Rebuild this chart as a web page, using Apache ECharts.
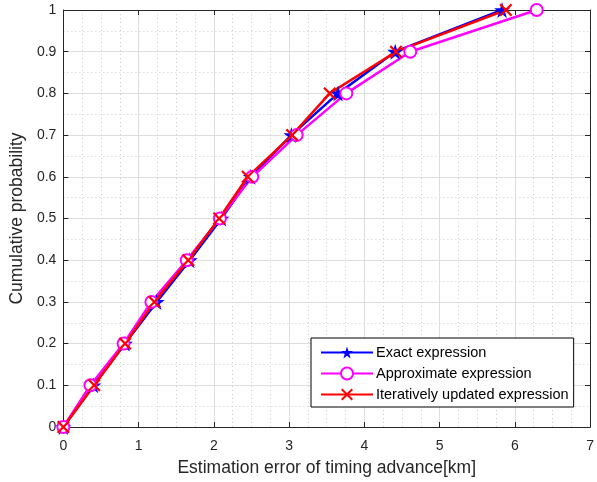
<!DOCTYPE html>
<html lang="en">
<head>
    <meta charset="UTF-8">
    <title>Timing advance CDF</title>
    <script src="https://cdn.jsdelivr.net/npm/echarts@6/dist/echarts.min.js"></script>
    <style>
        html, body { margin: 0; padding: 0; background: #fff; }
        #container { width: 597px; height: 482px; }
    </style>
</head>
<body>
<div id="container"></div>
<script>
    // cumulative probability levels (y) and estimation error per curve (x, km)
    var probLevels = [0, 0.1, 0.2, 0.3, 0.4, 0.5, 0.6, 0.7, 0.8, 0.9, 1.0];
    var exactErr  = [0, 0.40, 0.82, 1.24, 1.68, 2.10, 2.49, 3.03, 3.65, 4.41, 5.83];
    var approxErr = [0, 0.36, 0.80, 1.17, 1.64, 2.08, 2.51, 3.10, 3.76, 4.61, 6.29];
    var iterErr   = [0, 0.41, 0.82, 1.21, 1.66, 2.07, 2.45, 3.04, 3.54, 4.42, 5.88];
    var seriesNames = ['Exact expression', 'Approximate expression', 'Iteratively updated expression'];

    var starPath = 'path://M50,0 L61,35 L98,35 L68,57 L79,91 L50,70 L21,91 L32,57 L2,35 L39,35 Z';
    var crossPath = 'path://M0,12 L12,0 L50,38 L88,0 L100,12 L62,50 L100,88 L88,100 L50,62 L12,100 L0,88 L38,50 Z';

    function pairs(xs) {
        var out = [];
        for (var i = 0; i < xs.length; i++) {
            out.push([xs[i], probLevels[i]]);
        }
        return out;
    }

    var font = 'Liberation Sans, Arial, sans-serif';
    var axisColor = '#262626';

    var myChart = echarts.init(document.getElementById('container'));

    function baseAxis(extra) {
        var ax = {
            type: 'value',
            axisLine: { show: true, onZero: false, lineStyle: { color: axisColor, width: 1 } },
            axisTick: { show: true, inside: true, length: 5, lineStyle: { color: axisColor } },
            splitLine: { show: false },
            axisLabel: { show: false }
        };
        for (var k in extra) ax[k] = extra[k];
        return ax;
    }

    var option = {
        animation: false,
        backgroundColor: '#fff',
        grid: { left: 62, right: 3, top: 10, bottom: 52 },
        legend: {
            orient: 'vertical',
            left: 311,
            top: 338,
            padding: [7, 5, 5, 9],
            itemGap: 6,
            itemWidth: 52,
            itemHeight: 15,
            backgroundColor: '#fff',
            borderColor: '#000',
            borderWidth: 1,
            borderRadius: 0,
            textStyle: { fontFamily: font, fontSize: 14.5, color: '#000', padding: [0, 0, 0, -2] },
            data: seriesNames
        },
        xAxis: [
            baseAxis({
                min: 0, max: 7, interval: 1,
                position: 'bottom',
                name: 'Estimation error of timing advance[km]',
                nameLocation: 'middle',
                nameGap: 32,
                nameTextStyle: { fontFamily: font, fontSize: 17.5, color: '#262626' },
                axisLabel: { show: true, margin: 12, fontFamily: font, fontSize: 14, color: '#262626' },
                splitLine: { show: true, lineStyle: { color: '#dedede', width: 1 } },
                minorTick: { show: false, splitNumber: 4 },
                minorSplitLine: { show: true, lineStyle: { color: '#cfcfcf', type: [1, 3], width: 1 } }
            }),
            baseAxis({ min: 0, max: 7, interval: 1, position: 'top' })
        ],
        yAxis: [
            baseAxis({
                min: 0, max: 1, interval: 0.1,
                position: 'left',
                name: 'Cumulative probability',
                nameLocation: 'middle',
                nameGap: 37,
                nameTextStyle: { fontFamily: font, fontSize: 17.5, color: '#262626' },
                axisLabel: { show: true, margin: 7, fontFamily: font, fontSize: 14, color: '#262626' },
                splitLine: { show: true, lineStyle: { color: '#dedede', width: 1 } },
                minorTick: { show: false, splitNumber: 2 },
                minorSplitLine: { show: true, lineStyle: { color: '#cfcfcf', type: [1, 3], width: 1 } }
            }),
            baseAxis({ min: 0, max: 1, interval: 0.1, position: 'right' })
        ],
        series: [
            {
                name: seriesNames[0],
                type: 'line',
                clip: false,
                data: pairs(exactErr),
                symbol: starPath,
                symbolSize: 16,
                lineStyle: { color: '#0000ff', width: 2.5 },
                itemStyle: { color: '#0000ff' }
            },
            {
                name: seriesNames[1],
                type: 'line',
                clip: false,
                data: pairs(approxErr),
                symbol: 'emptyCircle',
                symbolSize: 12,
                lineStyle: { color: '#ff00ff', width: 2.5 },
                itemStyle: { color: '#ff00ff', borderColor: '#ff00ff', borderWidth: 2.5 }
            },
            {
                name: seriesNames[2],
                type: 'line',
                clip: false,
                data: pairs(iterErr),
                symbol: crossPath,
                symbolSize: 13,
                lineStyle: { color: '#ff0000', width: 2.5 },
                itemStyle: { color: '#ff0000' }
            }
        ]
    };

    myChart.setOption(option);
</script>
</body>
</html>
